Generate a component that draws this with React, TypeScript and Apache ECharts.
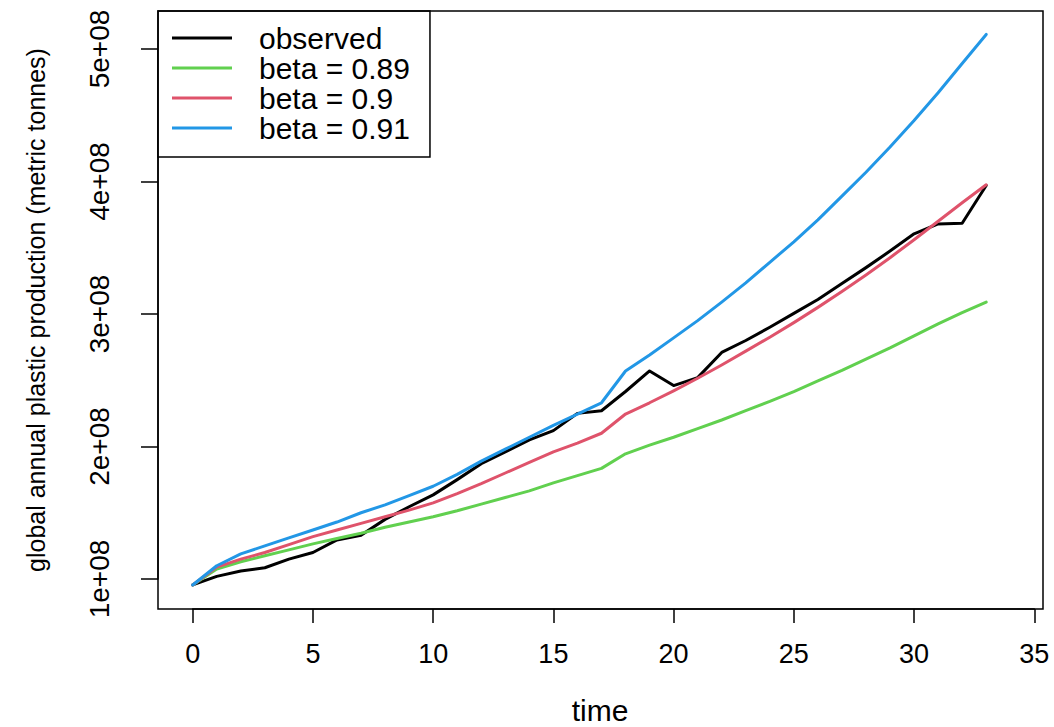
import React, { useEffect, useRef } from "react";
import * as echarts from "echarts";

// time index (years since start)
const time = [
  0, 1, 2, 3, 4, 5, 6, 7, 8, 9, 10, 11, 12, 13, 14, 15, 16, 17, 18, 19, 20, 21, 22, 23, 24, 25,
  26, 27, 28, 29, 30, 31, 32, 33,
];

// values in millions of metric tonnes
const observed = [
  95.5, 102, 106, 108.5, 115, 120, 129.5, 133, 145, 154.5, 163.5, 175, 187, 196, 205, 212, 225, 227,
  241.5, 257, 246, 252, 271, 280, 290, 300.5, 311, 323, 335, 347.5, 360.5, 368, 368.5, 397,
];
const beta089 = [
  95.5, 107.5, 113, 117.5, 122, 126.5, 130.5, 134.5, 139, 143, 147, 151.5, 156.5, 161.5, 166.5, 172.5,
  178, 183.5, 194.5, 201, 207, 213.5, 220, 227, 234, 241.5, 249.5, 257.5, 266, 274.5, 283.5, 292.5,
  301, 309,
];
const beta090 = [
  95.5, 109, 115, 120, 126, 132, 137, 142, 147, 152, 157.5, 164.5, 172, 180, 188, 196, 202.5, 210,
  224.5, 233, 242, 251.5, 261.5, 272, 282.5, 293.5, 305, 317, 329.5, 342.5, 356, 370, 384, 397.5,
];
const beta091 = [
  95.5, 110, 119, 125, 131, 137, 143, 150, 156, 163, 170, 179, 189, 198, 207, 216, 224.5, 233, 257,
  269, 282, 295, 309, 323.5, 339, 354.5, 371, 389, 407, 426, 446, 467, 489, 511,
];

const seriesNames = ["observed", "beta = 0.89", "beta = 0.9", "beta = 0.91"];
const seriesColors = ["#000000", "#61D04F", "#DF536B", "#2297E6"];
const seriesValues = [observed, beta089, beta090, beta091];

const xTicks = [0, 5, 10, 15, 20, 25, 30, 35];
const yTicks = [1e8, 2e8, 3e8, 4e8, 5e8];

const FONT = "'Liberation Sans', Arial, Helvetica, sans-serif";

export default function App() {
  const ref = useRef<HTMLDivElement>(null);

  useEffect(() => {
    if (!ref.current) return;
    const chart = echarts.init(ref.current, null, { renderer: "svg" });

    const series = seriesValues.map((vals, k) => ({
      name: seriesNames[k],
      type: "line",
      data: time.map((t, i) => [t, vals[i] * 1e6]),
      showSymbol: false,
      symbol: "none",
      clip: false,
      lineStyle: { color: seriesColors[k], width: 3, cap: "round", join: "round" },
      itemStyle: { color: seriesColors[k] },
      emphasis: { disabled: true },
      z: 2 + k,
    }));

    chart.setOption({
      animation: false,
      backgroundColor: "#ffffff",
      textStyle: { fontFamily: FONT },
      grid: {
        left: 192.7,
        right: 19.7,
        top: 49,
        bottom: 148,
        containLabel: false,
        outerBoundsMode: "none",
      },
      xAxis: {
        type: "value",
        min: xTicks[0],
        max: xTicks[xTicks.length - 1],
        interval: xTicks[1] - xTicks[0],
        offset: 30,
        axisLine: { show: true, onZero: false, lineStyle: { color: "#000", width: 1.5 } },
        axisTick: { show: true, length: 14, lineStyle: { color: "#000", width: 1.5 } },
        axisLabel: { fontSize: 27, color: "#000", fontFamily: FONT, margin: 31 },
        splitLine: { show: false },
        name: "time",
        nameLocation: "middle",
        nameGap: 86,
        nameTextStyle: { fontSize: 30, color: "#000", fontFamily: FONT, padding: [0, 27, 0, 0] },
      },
      yAxis: {
        type: "value",
        min: yTicks[0],
        max: yTicks[yTicks.length - 1],
        interval: yTicks[1] - yTicks[0],
        offset: 34.7,
        axisLine: { show: true, onZero: false, lineStyle: { color: "#000", width: 1.5 } },
        axisTick: { show: true, length: 17, lineStyle: { color: "#000", width: 1.5 } },
        axisLabel: {
          rotate: 90,
          fontSize: 28,
          color: "#000",
          fontFamily: FONT,
          margin: 45,
          formatter: (v: number) => `${Math.round(v / 1e8)}e+08`,
        },
        splitLine: { show: false },
        name: "global annual plastic production (metric tonnes)",
        nameLocation: "middle",
        nameRotate: 90,
        nameGap: 110,
        nameTextStyle: { fontSize: 25, color: "#000", fontFamily: FONT, padding: [0, 0, 0, 8] },
      },
      legend: {
        show: true,
        left: 158,
        top: 11,
        orient: "vertical",
        icon: "rect",
        itemWidth: 60,
        itemHeight: 3,
        itemGap: 0,
        selectedMode: false,
        padding: [12, 20, 14, 14],
        backgroundColor: "#ffffff",
        borderColor: "#000",
        borderWidth: 1.5,
        borderRadius: 0,
        textStyle: {
          fontSize: 30,
          color: "#000",
          fontFamily: FONT,
          lineHeight: 30,
          padding: [0, 0, 0, 22],
        },
        data: seriesNames,
      },
      graphic: [
        {
          type: "rect",
          z: 100,
          silent: true,
          shape: { x: 158, y: 11, width: 885, height: 598 },
          style: { fill: "none", stroke: "#000", lineWidth: 1.5 },
        },
      ],
      series,
    });

    return () => chart.dispose();
  }, []);

  return (
    <div
      ref={ref}
      style={{ position: "fixed", left: 0, top: 0, width: 1054, height: 727, background: "#fff" }}
    />
  );
}
